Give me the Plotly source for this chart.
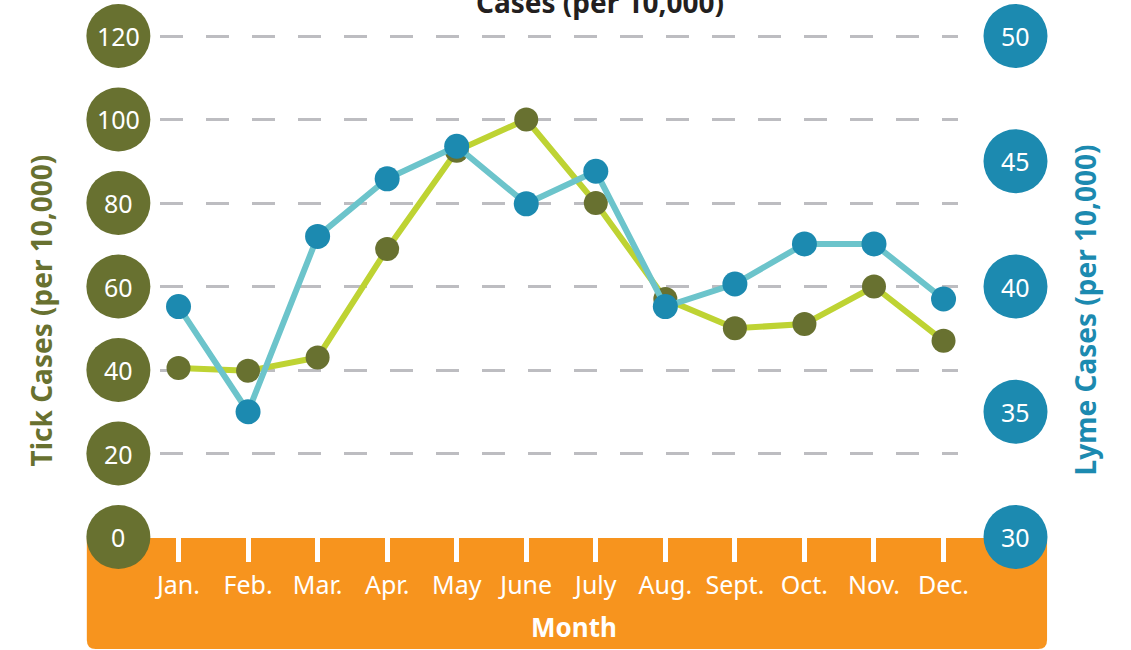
import plotly.graph_objects as go

W, H = 1131, 650

months = ["Jan.", "Feb.", "Mar.", "Apr.", "May", "June", "July", "Aug.", "Sept.", "Oct.", "Nov.", "Dec."]
tick_cases = [40.5, 39.8, 43, 69, 92.5, 100, 80, 57, 50, 51, 60, 47]
lyme_cases = [39.2, 35.0, 42.0, 44.3, 45.6, 43.3, 44.6, 39.2, 40.1, 41.7, 41.7, 39.5]
tick_axis_vals = [0, 20, 40, 60, 80, 100, 120]
lyme_axis_vals = [30, 35, 40, 45, 50]

OLIVE = "#687130"
TICK_LINE = "#bed333"
BLUE = "#1c8ab0"
LYME_LINE = "#6cc4cb"
ORANGE = "#f7941e"
FONT = "Noto Sans"

def px(x):
    return x / W

def py(y):
    return 1 - y / H

xi = list(range(len(months)))

Y_RANGE = [0, 122]
Y2_RANGE = [30, 30 + 20 * 122 / 120]
Y_DOMAIN = [py(537), py(537 - 122 * 501 / 120)]
BAND_X = [83, 1057]

def to_paper(v, rng):
    # position of an axis value in paper units, following the axis range and domain
    return Y_DOMAIN[0] + (v - rng[0]) / (rng[1] - rng[0]) * (Y_DOMAIN[1] - Y_DOMAIN[0])

fig = go.Figure()

# lines
fig.add_trace(go.Scatter(x=xi, y=lyme_cases, yaxis="y2", mode="lines",
                         line=dict(color=LYME_LINE, width=6), hoverinfo="skip"))
fig.add_trace(go.Scatter(x=xi, y=tick_cases, mode="lines",
                         line=dict(color=TICK_LINE, width=6), hoverinfo="skip"))
# markers
fig.add_trace(go.Scatter(x=xi, y=tick_cases, mode="markers",
                         marker=dict(color=OLIVE, size=24), cliponaxis=False))
fig.add_trace(go.Scatter(x=xi, y=lyme_cases, yaxis="y2", mode="markers",
                         marker=dict(color=BLUE, size=25), cliponaxis=False))

# orange band with rounded bottom corners
x0, x1, yt, yb, r = BAND_X[0], BAND_X[1], 538, 649, 9
path = (f"M {px(x0)},{py(yt)} L {px(x1)},{py(yt)} L {px(x1)},{py(yb - r)} "
        f"Q {px(x1)},{py(yb)} {px(x1 - r)},{py(yb)} L {px(x0 + r)},{py(yb)} "
        f"Q {px(x0)},{py(yb)} {px(x0)},{py(yb - r)} Z")
fig.add_shape(type="path", path=path, xref="paper", yref="paper",
              fillcolor=ORANGE, line=dict(width=0), layer="below")

annotations = []

# circular axis labels
left_x, right_x = 115, 1025
for vals, rng, cx, color, yref in [(tick_axis_vals, Y_RANGE, left_x, OLIVE, "y"),
                                   (lyme_axis_vals, Y2_RANGE, right_x, BLUE, "y2")]:
    for v in vals:
        fig.add_shape(type="circle", xref="paper", yref="paper",
                      xsizemode="pixel", xanchor=px(cx), x0=-32, x1=32,
                      ysizemode="pixel", yanchor=to_paper(v, rng), y0=-32, y1=32,
                      fillcolor=color, line=dict(width=0), layer="above")
        annotations.append(dict(text=str(v), x=px(cx), y=v, xref="paper", yref=yref,
                                xanchor="center", yanchor="middle", showarrow=False,
                                font=dict(color="white", size=25, family=FONT)))

annotations += [
    dict(text="<b>Month</b>", x=px(577), y=py(627), xref="paper", yref="paper",
         xanchor="center", yanchor="middle",
         showarrow=False, font=dict(color="white", size=26, family=FONT)),
    dict(text="<b>Tick Cases (per 10,000)</b>", x=px(37), y=py(310), xref="paper", yref="paper",
         xanchor="center", yanchor="middle",
         showarrow=False, textangle=-90, font=dict(color=OLIVE, size=28, family=FONT)),
    dict(text="<b>Lyme Cases (per 10,000)</b>", x=px(1095), y=py(310), xref="paper", yref="paper",
         xanchor="center", yanchor="middle",
         showarrow=False, textangle=-90, font=dict(color=BLUE, size=28, family=FONT)),
    dict(text="<b>Cases (per 10,000)</b>", x=px(604), y=py(2), xref="paper", yref="paper",
         xanchor="center", yanchor="middle",
         showarrow=False, font=dict(color="#231f20", size=28, family=FONT)),
]

fig.update_layout(
    width=W, height=H, autosize=False,
    margin=dict(l=0, r=0, t=0, b=0),
    plot_bgcolor="rgba(0,0,0,0)", paper_bgcolor="white",
    showlegend=False,
    font=dict(family=FONT),
    xaxis=dict(domain=[px(157), px(967)], range=[-0.2693, 11.2126],
               tickvals=xi, ticktext=months, ticks="outside", ticklen=24, tickwidth=4.5,
               tickcolor="white", tickfont=dict(color="white", size=25, family=FONT),
               ticklabelstandoff=2, fixedrange=True,
               showgrid=False, zeroline=False, showline=False),
    yaxis=dict(domain=Y_DOMAIN, range=Y_RANGE, tickvals=tick_axis_vals[1:],
               showticklabels=False, showgrid=True, gridcolor="#bdbdc1", gridwidth=2.5,
               griddash="23px,23px", zeroline=False, showline=False, ticks="", fixedrange=True),
    yaxis2=dict(range=Y2_RANGE, overlaying="y", side="right", fixedrange=True,
                showticklabels=False, showgrid=False, zeroline=False, showline=False, ticks=""),
    annotations=annotations,
)

fig.write_html("out.html", config={"displayModeBar": False},
               post_script="document.body.style.margin='0';")
